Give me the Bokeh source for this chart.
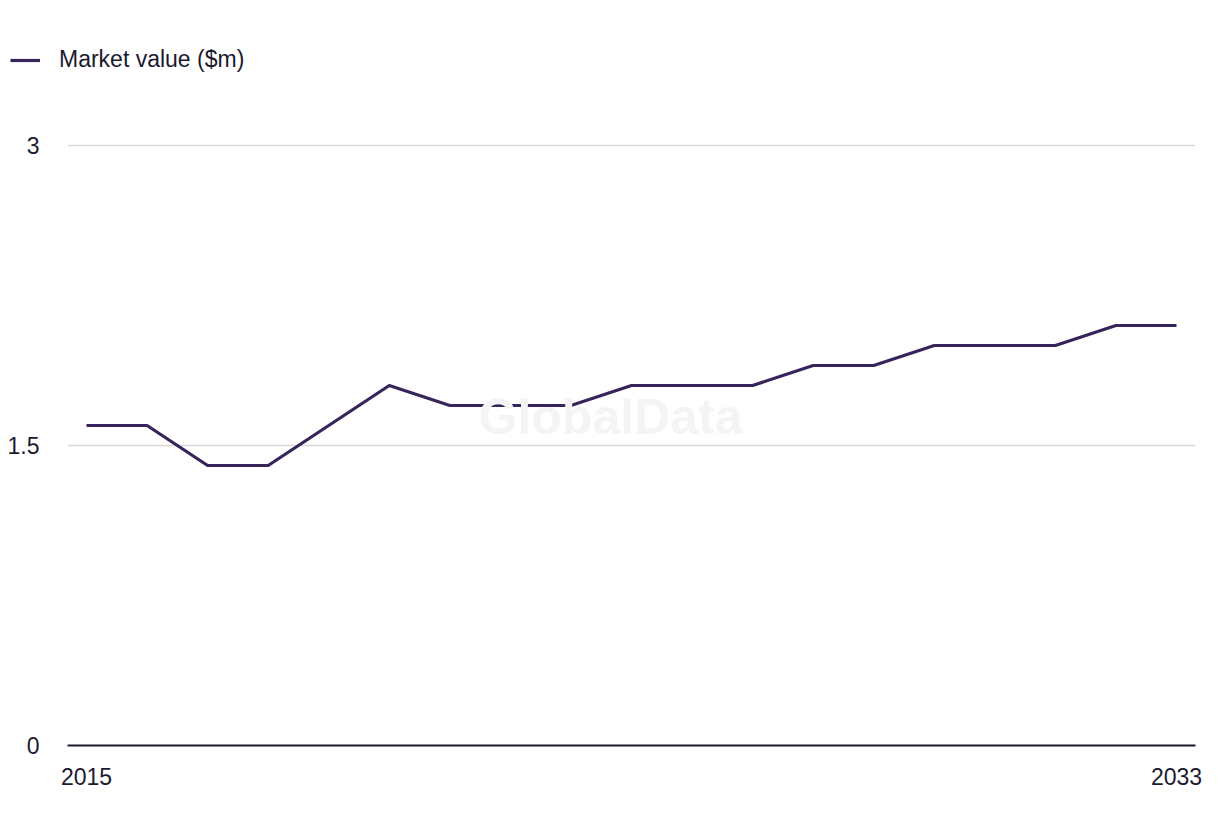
from bokeh.plotting import figure
from bokeh.models import Range1d, FixedTicker, Legend, LegendItem, Label
from bokeh.layouts import column
from bokeh.embed import file_html
from bokeh.resources import INLINE

years = list(range(2015, 2034))
market_value = [1.6, 1.6, 1.4, 1.4, 1.6, 1.8, 1.7, 1.7, 1.7, 1.8, 1.8, 1.8, 1.9, 1.9, 2.0, 2.0, 2.0, 2.1, 2.1]
y_ticks = [0, 1.5, 3]
x_ticks = [2015, 2033]
series_name = "Market value ($m)"

FONT = "Liberation Sans"
TEXT = "#1b1a2e"
LINE = "#37245a"
LW = 3.2

# --- legend strip (uses the same series, shown off-range) ---
top = figure(width=1220, height=110, output_backend="svg", toolbar_location=None,
             x_axis_type=None, y_axis_type=None,
             x_range=Range1d(0, 1), y_range=Range1d(0, 1),
             min_border=0, min_border_left=0, min_border_right=0,
             min_border_top=0, min_border_bottom=0)
top.outline_line_color = None
top.xgrid.visible = False
top.ygrid.visible = False
lr = top.line(x=years, y=market_value, line_color=LINE, line_width=LW)
legend = Legend(items=[LegendItem(label=series_name, renderers=[lr])],
                location=(10, 37), orientation="horizontal",
                padding=0, margin=0, spacing=0, glyph_width=30, glyph_height=24,
                label_height=24, label_standoff=19,
                label_text_font=FONT, label_text_font_size="23px", label_text_color=TEXT,
                border_line_color=None, background_fill_alpha=0)
top.add_layout(legend)

# --- main chart ---
p = figure(width=1220, height=726, output_backend="svg", toolbar_location=None,
           x_range=Range1d(2015 - 0.314, 2033 + 0.314), y_range=Range1d(0, 3.05),
           min_border_left=67, min_border_right=25, min_border_top=25, min_border_bottom=91)
p.outline_line_color = None

wm = Label(x=543, y=329, x_units="screen", y_units="screen", text="GlobalData",
           text_font=FONT, text_font_style="bold", text_font_size="50px",
           text_color="#f4f4f4", text_align="center", text_baseline="middle")
p.add_layout(wm)

p.line(years, market_value, line_color=LINE, line_width=LW, line_join="round")

p.xgrid.grid_line_color = None
p.ygrid.grid_line_color = "#d9d9d9"
p.ygrid.grid_line_width = 1.5
p.ygrid.ticker = FixedTicker(ticks=y_ticks)

p.yaxis.ticker = FixedTicker(ticks=y_ticks)
p.yaxis.major_label_overrides = {0: "0", 1.5: "1.5", 3: "3"}
p.yaxis.axis_line_color = None
p.yaxis.major_tick_line_color = None
p.yaxis.minor_tick_line_color = None
p.yaxis.major_label_standoff = 22
p.yaxis.major_label_text_font = FONT
p.yaxis.major_label_text_font_size = "23px"
p.yaxis.major_label_text_color = TEXT

p.xaxis.ticker = FixedTicker(ticks=x_ticks)
p.xaxis.axis_line_color = TEXT
p.xaxis.axis_line_width = 2
p.xaxis.major_tick_line_color = None
p.xaxis.minor_tick_line_color = None
p.xaxis.major_label_standoff = 16
p.xaxis.major_label_text_font = FONT
p.xaxis.major_label_text_font_size = "23px"
p.xaxis.major_label_text_color = TEXT

layout = column(column(top, spacing=0), column(p, spacing=0), spacing=0)
open("out.html", "w").write(file_html(layout, INLINE))
